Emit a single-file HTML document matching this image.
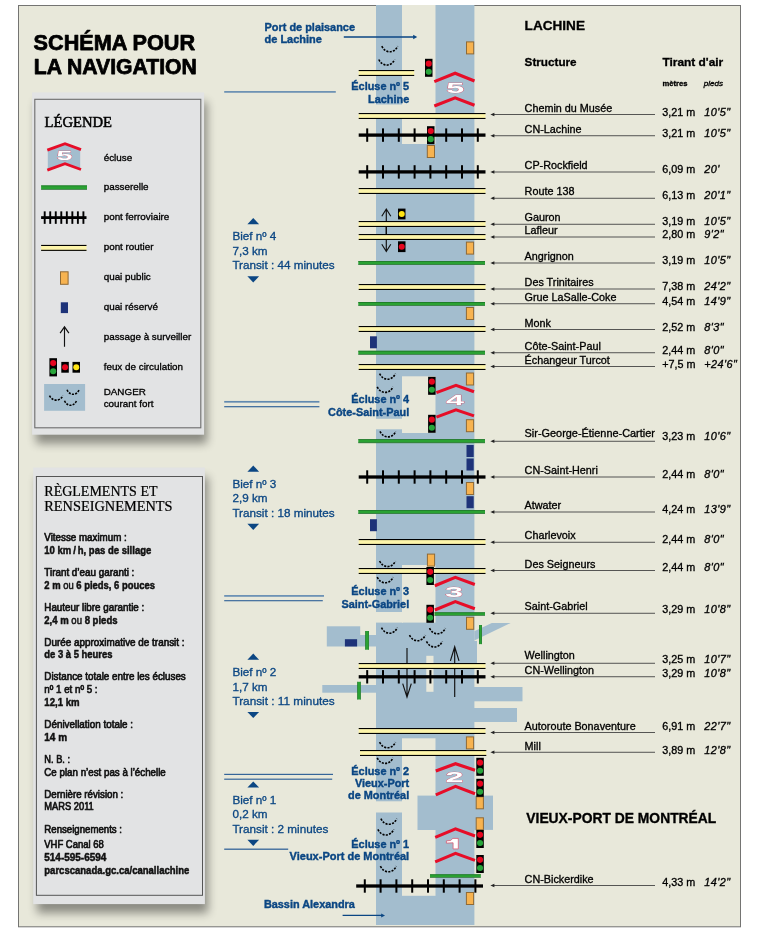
<!DOCTYPE html>
<html><head><meta charset="utf-8"><title>Schéma pour la navigation</title>
<style>html,body{margin:0;padding:0;background:#fff;}svg{display:block;will-change:transform;}text{font-kerning:normal;}</style></head><body>
<svg width="760" height="932" viewBox="0 0 760 932">
<defs><filter id="sh" x="-10%" y="-10%" width="130%" height="130%"><feGaussianBlur stdDeviation="4.6"/></filter>
<clipPath id="frame"><rect x="18.5" y="4.9" width="722.5" height="920.1"/></clipPath></defs>
<rect width="760" height="932" fill="#fff"/>
<rect x="18.5" y="5.5" width="722" height="921.3" fill="#e8e8da" stroke="#747472" stroke-width="1"/>
<g clip-path="url(#frame)">
<g fill="#a3bdce">
<rect x="376" y="4" width="98.4" height="923"/>
<rect x="326.8" y="626.3" width="33.4" height="20.2"/>
<rect x="360" y="635" width="17" height="11.5"/>
<rect x="322.3" y="685" width="54" height="7.7"/>
<polygon points="474.3,631.2 491.8,623 510.7,623 474.3,640.4"/>
<rect x="474" y="641" width="3" height="22"/>
<rect x="474" y="687" width="48.5" height="14.3"/>
<rect x="474" y="708" width="43" height="14"/>
<rect x="474" y="795.6" width="19" height="34.3"/>
</g>
<g fill="#e8e8da">
<rect x="402" y="4" width="33.5" height="140"/>
<rect x="375" y="104.5" width="28" height="9"/>
<rect x="402" y="376.3" width="33.5" height="56.7"/>
<rect x="375" y="418.8" width="28" height="10.5"/>
<rect x="402" y="565" width="33.5" height="57.6"/>
<rect x="375" y="612" width="28" height="10.6"/>
<rect x="426.3" y="655.8" width="7.2" height="36"/>
<rect x="402" y="738.3" width="33.5" height="57.3"/>
<rect x="402" y="795" width="15.5" height="36"/>
<rect x="402" y="830" width="33.5" height="65.8"/>
<rect x="375" y="801.3" width="28" height="11.2"/>
</g>
</g>
<path d="M381.8,46.2 C385.30,53.66 394.20,53.66 397.7,46.2" fill="none" stroke="#000" stroke-width="1.6" stroke-dasharray="2.1 1.25"/>
<path d="M378.8,59.5 C382.30,66.96 391.20,66.96 394.7,59.5" fill="none" stroke="#000" stroke-width="1.6" stroke-dasharray="2.1 1.25"/>
<path d="M379.6,373.6 C383.10,381.06 392.00,381.06 395.5,373.6" fill="none" stroke="#000" stroke-width="1.6" stroke-dasharray="2.1 1.25"/>
<path d="M377.2,386.8 C380.70,394.26 389.60,394.26 393.09999999999997,386.8" fill="none" stroke="#000" stroke-width="1.6" stroke-dasharray="2.1 1.25"/>
<path d="M380,431.3 C383.50,438.76 392.40,438.76 395.9,431.3" fill="none" stroke="#000" stroke-width="1.6" stroke-dasharray="2.1 1.25"/>
<path d="M379.6,561 C383.10,568.46 392.00,568.46 395.5,561" fill="none" stroke="#000" stroke-width="1.6" stroke-dasharray="2.1 1.25"/>
<path d="M377.2,577.2 C380.70,584.66 389.60,584.66 393.09999999999997,577.2" fill="none" stroke="#000" stroke-width="1.6" stroke-dasharray="2.1 1.25"/>
<path d="M381.5,627.6 C385.00,635.06 393.90,635.06 397.4,627.6" fill="none" stroke="#000" stroke-width="1.6" stroke-dasharray="2.1 1.25"/>
<path d="M409.5,635.1 C413.00,642.56 421.90,642.56 425.4,635.1" fill="none" stroke="#000" stroke-width="1.6" stroke-dasharray="2.1 1.25"/>
<path d="M429.5,628.2 C433.00,635.66 441.90,635.66 445.4,628.2" fill="none" stroke="#000" stroke-width="1.6" stroke-dasharray="2.1 1.25"/>
<path d="M426.5,641.4 C430.00,648.86 438.90,648.86 442.4,641.4" fill="none" stroke="#000" stroke-width="1.6" stroke-dasharray="2.1 1.25"/>
<path d="M379.6,742.2 C383.10,749.66 392.00,749.66 395.5,742.2" fill="none" stroke="#000" stroke-width="1.6" stroke-dasharray="2.1 1.25"/>
<path d="M377.2,757.8 C380.70,765.26 389.60,765.26 393.09999999999997,757.8" fill="none" stroke="#000" stroke-width="1.6" stroke-dasharray="2.1 1.25"/>
<path d="M380.9,818.7 C384.40,826.16 393.30,826.16 396.79999999999995,818.7" fill="none" stroke="#000" stroke-width="1.6" stroke-dasharray="2.1 1.25"/>
<path d="M377.9,829.4 C381.40,836.86 390.30,836.86 393.79999999999995,829.4" fill="none" stroke="#000" stroke-width="1.6" stroke-dasharray="2.1 1.25"/>
<path d="M380.4,866.2 C383.90,873.66 392.80,873.66 396.29999999999995,866.2" fill="none" stroke="#000" stroke-width="1.6" stroke-dasharray="2.1 1.25"/>
<path d="M386.3,236 L386.3,209 M381.8,216.3 L386.3,209 L390.8,216.3" fill="none" stroke="#111" stroke-width="1.15"/>
<path d="M386.3,226 L386.3,251.5 M381.8,244.2 L386.3,251.5 L390.8,244.2" fill="none" stroke="#111" stroke-width="1.15"/>
<path d="M407,648 L407,697.2 M402.7,683.7 L407,697.2 L411.3,683.7" fill="none" stroke="#111" stroke-width="1.15"/>
<path d="M454.7,697 L454.7,646.8 M450.4,660.8 L454.7,646.8 L459.0,660.8" fill="none" stroke="#111" stroke-width="1.15"/>
<rect x="358.7" y="70" width="55.5" height="6" fill="#fdf5aa"/>
<rect x="358.7" y="70" width="55.5" height="1.1" fill="#000"/>
<rect x="358.7" y="74.9" width="55.5" height="1.1" fill="#000"/>
<rect x="358.7" y="113" width="126.80000000000001" height="6" fill="#fdf5aa"/>
<rect x="358.7" y="113" width="126.80000000000001" height="1.1" fill="#000"/>
<rect x="358.7" y="117.9" width="126.80000000000001" height="1.1" fill="#000"/>
<rect x="358.7" y="133.45" width="126.80000000000001" height="3.3" fill="#000"/>
<rect x="366.20" y="128.4" width="2.0" height="13.4" fill="#000"/>
<rect x="382.00" y="128.4" width="2.0" height="13.4" fill="#000"/>
<rect x="397.80" y="128.4" width="2.0" height="13.4" fill="#000"/>
<rect x="413.60" y="128.4" width="2.0" height="13.4" fill="#000"/>
<rect x="429.40" y="128.4" width="2.0" height="13.4" fill="#000"/>
<rect x="445.20" y="128.4" width="2.0" height="13.4" fill="#000"/>
<rect x="461.00" y="128.4" width="2.0" height="13.4" fill="#000"/>
<rect x="476.80" y="128.4" width="2.0" height="13.4" fill="#000"/>
<rect x="358.7" y="170.25" width="126.80000000000001" height="3.3" fill="#000"/>
<rect x="366.20" y="165.20000000000002" width="2.0" height="13.4" fill="#000"/>
<rect x="382.00" y="165.20000000000002" width="2.0" height="13.4" fill="#000"/>
<rect x="397.80" y="165.20000000000002" width="2.0" height="13.4" fill="#000"/>
<rect x="413.60" y="165.20000000000002" width="2.0" height="13.4" fill="#000"/>
<rect x="429.40" y="165.20000000000002" width="2.0" height="13.4" fill="#000"/>
<rect x="445.20" y="165.20000000000002" width="2.0" height="13.4" fill="#000"/>
<rect x="461.00" y="165.20000000000002" width="2.0" height="13.4" fill="#000"/>
<rect x="476.80" y="165.20000000000002" width="2.0" height="13.4" fill="#000"/>
<rect x="358.7" y="188" width="126.80000000000001" height="6" fill="#fdf5aa"/>
<rect x="358.7" y="188" width="126.80000000000001" height="1.1" fill="#000"/>
<rect x="358.7" y="192.9" width="126.80000000000001" height="1.1" fill="#000"/>
<rect x="358.7" y="221" width="126.80000000000001" height="6" fill="#fdf5aa"/>
<rect x="358.7" y="221" width="126.80000000000001" height="1.1" fill="#000"/>
<rect x="358.7" y="225.9" width="126.80000000000001" height="1.1" fill="#000"/>
<rect x="358.7" y="234" width="126.80000000000001" height="6" fill="#fdf5aa"/>
<rect x="358.7" y="234" width="126.80000000000001" height="1.1" fill="#000"/>
<rect x="358.7" y="238.9" width="126.80000000000001" height="1.1" fill="#000"/>
<rect x="358.3" y="261.1" width="126.69999999999999" height="3.8" fill="#2aa233"/>
<rect x="358.3" y="261.1" width="126.69999999999999" height="0.7" fill="#1b6f25"/>
<rect x="358.3" y="264.3" width="126.69999999999999" height="0.6" fill="#3c6b47"/>
<rect x="358.7" y="284" width="126.80000000000001" height="6" fill="#fdf5aa"/>
<rect x="358.7" y="284" width="126.80000000000001" height="1.1" fill="#000"/>
<rect x="358.7" y="288.9" width="126.80000000000001" height="1.1" fill="#000"/>
<rect x="358.3" y="302" width="126.69999999999999" height="3.8" fill="#2aa233"/>
<rect x="358.3" y="302" width="126.69999999999999" height="0.7" fill="#1b6f25"/>
<rect x="358.3" y="305.2" width="126.69999999999999" height="0.6" fill="#3c6b47"/>
<rect x="358.7" y="326" width="126.80000000000001" height="6" fill="#fdf5aa"/>
<rect x="358.7" y="326" width="126.80000000000001" height="1.1" fill="#000"/>
<rect x="358.7" y="330.9" width="126.80000000000001" height="1.1" fill="#000"/>
<rect x="358.3" y="350.8" width="126.69999999999999" height="3.8" fill="#2aa233"/>
<rect x="358.3" y="350.8" width="126.69999999999999" height="0.7" fill="#1b6f25"/>
<rect x="358.3" y="354.0" width="126.69999999999999" height="0.6" fill="#3c6b47"/>
<rect x="358.7" y="364" width="126.80000000000001" height="6" fill="#fdf5aa"/>
<rect x="358.7" y="364" width="126.80000000000001" height="1.1" fill="#000"/>
<rect x="358.7" y="368.9" width="126.80000000000001" height="1.1" fill="#000"/>
<rect x="358.3" y="439.3" width="126.69999999999999" height="3.8" fill="#2aa233"/>
<rect x="358.3" y="439.3" width="126.69999999999999" height="0.7" fill="#1b6f25"/>
<rect x="358.3" y="442.5" width="126.69999999999999" height="0.6" fill="#3c6b47"/>
<rect x="358.7" y="475.35" width="126.80000000000001" height="3.3" fill="#000"/>
<rect x="366.20" y="470.3" width="2.0" height="13.4" fill="#000"/>
<rect x="382.00" y="470.3" width="2.0" height="13.4" fill="#000"/>
<rect x="397.80" y="470.3" width="2.0" height="13.4" fill="#000"/>
<rect x="413.60" y="470.3" width="2.0" height="13.4" fill="#000"/>
<rect x="429.40" y="470.3" width="2.0" height="13.4" fill="#000"/>
<rect x="445.20" y="470.3" width="2.0" height="13.4" fill="#000"/>
<rect x="461.00" y="470.3" width="2.0" height="13.4" fill="#000"/>
<rect x="476.80" y="470.3" width="2.0" height="13.4" fill="#000"/>
<rect x="358.3" y="510.1" width="126.69999999999999" height="3.8" fill="#2aa233"/>
<rect x="358.3" y="510.1" width="126.69999999999999" height="0.7" fill="#1b6f25"/>
<rect x="358.3" y="513.3" width="126.69999999999999" height="0.6" fill="#3c6b47"/>
<rect x="358.7" y="539" width="126.80000000000001" height="6" fill="#fdf5aa"/>
<rect x="358.7" y="539" width="126.80000000000001" height="1.1" fill="#000"/>
<rect x="358.7" y="543.9" width="126.80000000000001" height="1.1" fill="#000"/>
<rect x="358.7" y="568" width="126.80000000000001" height="6" fill="#fdf5aa"/>
<rect x="358.7" y="568" width="126.80000000000001" height="1.1" fill="#000"/>
<rect x="358.7" y="572.9" width="126.80000000000001" height="1.1" fill="#000"/>
<rect x="434.5" y="612.4" width="50.5" height="3.2" fill="#2aa233"/>
<rect x="434.5" y="612.4" width="50.5" height="0.7" fill="#1b6f25"/>
<rect x="434.5" y="615.0" width="50.5" height="0.6" fill="#3c6b47"/>
<rect x="358.7" y="663" width="126.80000000000001" height="6" fill="#fdf5aa"/>
<rect x="358.7" y="663" width="126.80000000000001" height="1.1" fill="#000"/>
<rect x="358.7" y="667.9" width="126.80000000000001" height="1.1" fill="#000"/>
<rect x="358.7" y="675.15" width="126.80000000000001" height="3.3" fill="#000"/>
<rect x="366.20" y="670.0999999999999" width="2.0" height="13.4" fill="#000"/>
<rect x="382.00" y="670.0999999999999" width="2.0" height="13.4" fill="#000"/>
<rect x="397.80" y="670.0999999999999" width="2.0" height="13.4" fill="#000"/>
<rect x="413.60" y="670.0999999999999" width="2.0" height="13.4" fill="#000"/>
<rect x="429.40" y="670.0999999999999" width="2.0" height="13.4" fill="#000"/>
<rect x="445.20" y="670.0999999999999" width="2.0" height="13.4" fill="#000"/>
<rect x="461.00" y="670.0999999999999" width="2.0" height="13.4" fill="#000"/>
<rect x="476.80" y="670.0999999999999" width="2.0" height="13.4" fill="#000"/>
<rect x="358.7" y="728" width="126.80000000000001" height="6" fill="#fdf5aa"/>
<rect x="358.7" y="728" width="126.80000000000001" height="1.1" fill="#000"/>
<rect x="358.7" y="732.9" width="126.80000000000001" height="1.1" fill="#000"/>
<rect x="360" y="750" width="126.30000000000001" height="6" fill="#fdf5aa"/>
<rect x="360" y="750" width="126.30000000000001" height="1.1" fill="#000"/>
<rect x="360" y="754.9" width="126.30000000000001" height="1.1" fill="#000"/>
<rect x="430" y="874.4" width="50.80000000000001" height="3.2" fill="#2aa233"/>
<rect x="430" y="874.4" width="50.80000000000001" height="0.7" fill="#1b6f25"/>
<rect x="430" y="877.0" width="50.80000000000001" height="0.6" fill="#3c6b47"/>
<rect x="356.2" y="884.35" width="126.80000000000001" height="3.3" fill="#000"/>
<rect x="363.80" y="879.3" width="2.0" height="13.4" fill="#000"/>
<rect x="379.60" y="879.3" width="2.0" height="13.4" fill="#000"/>
<rect x="395.40" y="879.3" width="2.0" height="13.4" fill="#000"/>
<rect x="411.20" y="879.3" width="2.0" height="13.4" fill="#000"/>
<rect x="427.00" y="879.3" width="2.0" height="13.4" fill="#000"/>
<rect x="442.80" y="879.3" width="2.0" height="13.4" fill="#000"/>
<rect x="458.60" y="879.3" width="2.0" height="13.4" fill="#000"/>
<rect x="474.40" y="879.3" width="2.0" height="13.4" fill="#000"/>
<rect x="365.4" y="631" width="3.6000000000000227" height="18.700000000000045" fill="#2aa233"/>
<rect x="365.4" y="631" width="0.6" height="18.700000000000045" fill="#1b6f25"/>
<rect x="368.4" y="631" width="0.6" height="18.700000000000045" fill="#2f7a3a"/>
<rect x="357.4" y="681.8" width="3.400000000000034" height="17.700000000000045" fill="#2aa233"/>
<rect x="357.4" y="681.8" width="0.6" height="17.700000000000045" fill="#1b6f25"/>
<rect x="360.2" y="681.8" width="0.6" height="17.700000000000045" fill="#2f7a3a"/>
<rect x="479.1" y="625" width="2.8999999999999773" height="19.100000000000023" fill="#2aa233"/>
<rect x="479.1" y="625" width="0.6" height="19.100000000000023" fill="#1b6f25"/>
<rect x="481.4" y="625" width="0.6" height="19.100000000000023" fill="#2f7a3a"/>
<rect x="466.5" y="41.9" width="7.199999999999999" height="12" fill="#f7b350" stroke="#8f6a36" stroke-width="1"/>
<rect x="427.3" y="145.5" width="7.199999999999999" height="12" fill="#f7b350" stroke="#8f6a36" stroke-width="1"/>
<rect x="466.4" y="242.1" width="7.199999999999999" height="12" fill="#f7b350" stroke="#8f6a36" stroke-width="1"/>
<rect x="466.4" y="307.5" width="7.199999999999999" height="12" fill="#f7b350" stroke="#8f6a36" stroke-width="1"/>
<rect x="466.4" y="373.0" width="7.199999999999999" height="12" fill="#f7b350" stroke="#8f6a36" stroke-width="1"/>
<rect x="466.4" y="419.7" width="7.199999999999999" height="12" fill="#f7b350" stroke="#8f6a36" stroke-width="1"/>
<rect x="466.4" y="482.5" width="7.199999999999999" height="12" fill="#f7b350" stroke="#8f6a36" stroke-width="1"/>
<rect x="427.4" y="554.1" width="7.199999999999999" height="12" fill="#f7b350" stroke="#8f6a36" stroke-width="1"/>
<rect x="466.5" y="617.3" width="7.199999999999999" height="12" fill="#f7b350" stroke="#8f6a36" stroke-width="1"/>
<rect x="466.4" y="736.9" width="7.199999999999999" height="12" fill="#f7b350" stroke="#8f6a36" stroke-width="1"/>
<rect x="476.2" y="796.8" width="7.199999999999999" height="12" fill="#f7b350" stroke="#8f6a36" stroke-width="1"/>
<rect x="476.2" y="817.8" width="7.199999999999999" height="12" fill="#f7b350" stroke="#8f6a36" stroke-width="1"/>
<rect x="466.4" y="892.5" width="7.199999999999999" height="12" fill="#f7b350" stroke="#8f6a36" stroke-width="1"/>
<rect x="370" y="336.3" width="6.9" height="12" fill="#1e3379"/>
<rect x="466.5" y="445" width="7.2" height="12" fill="#1e3379"/>
<rect x="466.5" y="458.5" width="7.2" height="12" fill="#1e3379"/>
<rect x="466.5" y="496.2" width="7.2" height="12" fill="#1e3379"/>
<rect x="370" y="519.2" width="6.9" height="12" fill="#1e3379"/>
<rect x="344.9" y="639.2" width="12.2" height="7.3" fill="#1e3379"/>
<polyline points="434.3,81.6 455.1,73.2 474.5,81.0" fill="none" stroke="#e60d28" stroke-width="3.1" stroke-linejoin="miter"/>
<polyline points="434.3,106 455.1,97.8 474.5,105.3" fill="none" stroke="#e60d28" stroke-width="3.1" stroke-linejoin="miter"/>
<text x="0" y="0" transform="translate(455.3,88.1) scale(2.35,1.0)" text-anchor="middle" font-family="Liberation Sans" font-weight="bold" font-size="13.8" fill="#fff" stroke="#dc4a64" stroke-width="0.45" paint-order="stroke" dominant-baseline="central">5</text>
<polyline points="436.4,392.6 456,385.3 474,391.8" fill="none" stroke="#e60d28" stroke-width="3.1" stroke-linejoin="miter"/>
<polyline points="436.4,417.1 456,409.8 474,415.9" fill="none" stroke="#e60d28" stroke-width="3.1" stroke-linejoin="miter"/>
<text x="0" y="0" transform="translate(455,399.90000000000003) scale(2.35,1.0)" text-anchor="middle" font-family="Liberation Sans" font-weight="bold" font-size="13.8" fill="#fff" stroke="#dc4a64" stroke-width="0.45" paint-order="stroke" dominant-baseline="central">4</text>
<polyline points="434.8,585.7 455.3,577.3 474.8,584.5" fill="none" stroke="#e60d28" stroke-width="3.1" stroke-linejoin="miter"/>
<polyline points="434.8,610 455.3,601.6 474.8,608.8" fill="none" stroke="#e60d28" stroke-width="3.1" stroke-linejoin="miter"/>
<text x="0" y="0" transform="translate(454,591.8) scale(2.35,1.0)" text-anchor="middle" font-family="Liberation Sans" font-weight="bold" font-size="13.8" fill="#fff" stroke="#dc4a64" stroke-width="0.45" paint-order="stroke" dominant-baseline="central">3</text>
<polyline points="435.8,771 455.5,763.7 475,770.2" fill="none" stroke="#e60d28" stroke-width="3.1" stroke-linejoin="miter"/>
<polyline points="435.8,794.8 455.5,786.3 475,793.8" fill="none" stroke="#e60d28" stroke-width="3.1" stroke-linejoin="miter"/>
<text x="0" y="0" transform="translate(454.6,777.5) scale(2.35,1.0)" text-anchor="middle" font-family="Liberation Sans" font-weight="bold" font-size="13.8" fill="#fff" stroke="#dc4a64" stroke-width="0.45" paint-order="stroke" dominant-baseline="central">2</text>
<polyline points="435.2,837.4 455.5,828.9 475,836" fill="none" stroke="#e60d28" stroke-width="3.1" stroke-linejoin="miter"/>
<polyline points="435.2,861.9 455.5,853.4 475,860.4" fill="none" stroke="#e60d28" stroke-width="3.1" stroke-linejoin="miter"/>
<path d="M452.8,838.4 L458.3,838.4 L458.3,848.9 L453.1,848.9 L453.1,842.8 L446.4,843.1 L446.4,840.9 L450.6,840.5 Z" fill="#fff" stroke="#dc4a64" stroke-width="0.7" stroke-linejoin="round"/>
<rect x="425" y="58.8" width="7.5" height="18" fill="#000"/>
<circle cx="428.75" cy="63.66" r="3.05" fill="#e6061f"/>
<circle cx="428.75" cy="71.76" r="3.05" fill="#27a53a"/>
<rect x="427" y="126.2" width="7.5" height="18" fill="#000"/>
<circle cx="430.75" cy="131.06" r="3.05" fill="#e6061f"/>
<circle cx="430.75" cy="139.16" r="3.05" fill="#27a53a"/>
<rect x="428.1" y="376.8" width="7.5" height="18" fill="#000"/>
<circle cx="431.85" cy="381.66" r="3.05" fill="#e6061f"/>
<circle cx="431.85" cy="389.76" r="3.05" fill="#27a53a"/>
<rect x="428.1" y="414.8" width="7.5" height="18" fill="#000"/>
<circle cx="431.85" cy="419.66" r="3.05" fill="#e6061f"/>
<circle cx="431.85" cy="427.76" r="3.05" fill="#27a53a"/>
<rect x="426.4" y="567" width="7.5" height="18" fill="#000"/>
<circle cx="430.15" cy="571.86" r="3.05" fill="#e6061f"/>
<circle cx="430.15" cy="579.96" r="3.05" fill="#27a53a"/>
<rect x="426.4" y="604.8" width="7.5" height="18" fill="#000"/>
<circle cx="430.15" cy="609.66" r="3.05" fill="#e6061f"/>
<circle cx="430.15" cy="617.76" r="3.05" fill="#27a53a"/>
<rect x="476.3" y="757.8" width="7.5" height="18" fill="#000"/>
<circle cx="480.05" cy="762.66" r="3.05" fill="#e6061f"/>
<circle cx="480.05" cy="770.76" r="3.05" fill="#27a53a"/>
<rect x="476.3" y="778.8" width="7.5" height="18" fill="#000"/>
<circle cx="480.05" cy="783.66" r="3.05" fill="#e6061f"/>
<circle cx="480.05" cy="791.76" r="3.05" fill="#27a53a"/>
<rect x="476.3" y="830" width="7.5" height="18" fill="#000"/>
<circle cx="480.05" cy="834.86" r="3.05" fill="#e6061f"/>
<circle cx="480.05" cy="842.96" r="3.05" fill="#27a53a"/>
<rect x="476.3" y="855" width="7.5" height="18" fill="#000"/>
<circle cx="480.05" cy="859.86" r="3.05" fill="#e6061f"/>
<circle cx="480.05" cy="867.96" r="3.05" fill="#27a53a"/>
<rect x="398" y="208.6" width="7.5" height="10.8" fill="#000"/>
<circle cx="401.75" cy="214.0" r="3.0" fill="#ffe414"/>
<rect x="398" y="241.3" width="7.5" height="10.8" fill="#000"/>
<circle cx="401.75" cy="246.70000000000002" r="3.0" fill="#e6061f"/>
<rect x="224.2" y="91.10000000000001" width="111.60000000000002" height="1.6" fill="#6189b0"/>
<rect x="224.2" y="400.95" width="95.19999999999999" height="1.7" fill="#6189b0"/>
<rect x="224.2" y="406.09999999999997" width="95.19999999999999" height="1.2" fill="#356599"/>
<rect x="224.2" y="595.0" width="99.80000000000001" height="1.8" fill="#6d92b5"/>
<rect x="224.2" y="600.125" width="98.60000000000002" height="1.15" fill="#356599"/>
<rect x="224.2" y="773.8" width="108.80000000000001" height="1.2" fill="#356599"/>
<rect x="224.2" y="778.6" width="108.0" height="1.2" fill="#356599"/>
<rect x="224.2" y="848.5500000000001" width="64.0" height="1.3" fill="#356599"/>
<path d="M343.8,37 L414,37" stroke="#0b4683" stroke-width="1.5" fill="none"/><polygon points="413.2,34.8 417.2,37 413.2,39.2" fill="#0b4683"/>
<path d="M342.6,915.4 L382,915.4" stroke="#0b4683" stroke-width="1.2" fill="none"/><polygon points="381.2,913.4 385,915.4 381.2,917.4" fill="#0b4683"/>
<text x="264.5" y="31" font-family="Liberation Sans" font-size="11" font-weight="bold" font-style="normal" fill="#0b4683" text-anchor="start" textLength="90.5" lengthAdjust="spacingAndGlyphs"  stroke="#0b4683" stroke-width="0.4">Port de plaisance</text>
<text x="264.5" y="43.3" font-family="Liberation Sans" font-size="11" font-weight="bold" font-style="normal" fill="#0b4683" text-anchor="start"  stroke="#0b4683" stroke-width="0.4">de Lachine</text>
<text x="409.2" y="90.3" font-family="Liberation Sans" font-size="10.9" font-weight="bold" font-style="normal" fill="#0b4683" text-anchor="end"  stroke="#0b4683" stroke-width="0.4">Écluse nº 5</text>
<text x="409.2" y="102.89999999999999" font-family="Liberation Sans" font-size="10.9" font-weight="bold" font-style="normal" fill="#0b4683" text-anchor="end"  stroke="#0b4683" stroke-width="0.4">Lachine</text>
<text x="409.2" y="403.3" font-family="Liberation Sans" font-size="10.9" font-weight="bold" font-style="normal" fill="#0b4683" text-anchor="end"  stroke="#0b4683" stroke-width="0.4">Écluse nº 4</text>
<text x="409.2" y="416.0" font-family="Liberation Sans" font-size="10.9" font-weight="bold" font-style="normal" fill="#0b4683" text-anchor="end"  stroke="#0b4683" stroke-width="0.4">Côte-Saint-Paul</text>
<text x="409.2" y="595.2" font-family="Liberation Sans" font-size="10.9" font-weight="bold" font-style="normal" fill="#0b4683" text-anchor="end"  stroke="#0b4683" stroke-width="0.4">Écluse nº 3</text>
<text x="409.2" y="607.8000000000001" font-family="Liberation Sans" font-size="10.9" font-weight="bold" font-style="normal" fill="#0b4683" text-anchor="end"  stroke="#0b4683" stroke-width="0.4">Saint-Gabriel</text>
<text x="409.2" y="774.9000000000001" font-family="Liberation Sans" font-size="10.9" font-weight="bold" font-style="normal" fill="#0b4683" text-anchor="end"  stroke="#0b4683" stroke-width="0.4">Écluse nº 2</text>
<text x="409.2" y="786.8000000000001" font-family="Liberation Sans" font-size="10.9" font-weight="bold" font-style="normal" fill="#0b4683" text-anchor="end"  stroke="#0b4683" stroke-width="0.4">Vieux-Port</text>
<text x="409.2" y="798.7" font-family="Liberation Sans" font-size="10.9" font-weight="bold" font-style="normal" fill="#0b4683" text-anchor="end"  stroke="#0b4683" stroke-width="0.4">de Montréal</text>
<text x="409.2" y="847.5" font-family="Liberation Sans" font-size="10.9" font-weight="bold" font-style="normal" fill="#0b4683" text-anchor="end"  stroke="#0b4683" stroke-width="0.4">Écluse nº 1</text>
<text x="409.2" y="859.9" font-family="Liberation Sans" font-size="11" font-weight="bold" font-style="normal" fill="#0b4683" text-anchor="end"  stroke="#0b4683" stroke-width="0.4">Vieux-Port de Montréal</text>
<text x="263.9" y="907.8" font-family="Liberation Sans" font-size="11" font-weight="bold" font-style="normal" fill="#0b4683" text-anchor="start" textLength="91" lengthAdjust="spacingAndGlyphs"  stroke="#0b4683" stroke-width="0.4">Bassin Alexandra</text>
<text x="232.4" y="240.4" font-family="Liberation Sans" font-size="11.7" font-weight="normal" font-style="normal" fill="#0b4683" text-anchor="start"  stroke="#0b4683" stroke-width="0.32">Bief nº 4</text>
<text x="232.4" y="254.9" font-family="Liberation Sans" font-size="11.7" font-weight="normal" font-style="normal" fill="#0b4683" text-anchor="start"  stroke="#0b4683" stroke-width="0.32">7,3 km</text>
<text x="232.4" y="269.4" font-family="Liberation Sans" font-size="11.7" font-weight="normal" font-style="normal" fill="#0b4683" text-anchor="start" textLength="102.3" lengthAdjust="spacingAndGlyphs"  stroke="#0b4683" stroke-width="0.32">Transit : 44 minutes</text>
<polygon points="247.4,224.2 259.1,224.2 253.25,218" fill="#0b4683"/>
<polygon points="247.4,276.3 259.1,276.3 253.25,282.5" fill="#0b4683"/>
<text x="232.4" y="487.9" font-family="Liberation Sans" font-size="11.7" font-weight="normal" font-style="normal" fill="#0b4683" text-anchor="start"  stroke="#0b4683" stroke-width="0.32">Bief nº 3</text>
<text x="232.4" y="502.4" font-family="Liberation Sans" font-size="11.7" font-weight="normal" font-style="normal" fill="#0b4683" text-anchor="start"  stroke="#0b4683" stroke-width="0.32">2,9 km</text>
<text x="232.4" y="516.9" font-family="Liberation Sans" font-size="11.7" font-weight="normal" font-style="normal" fill="#0b4683" text-anchor="start" textLength="102.3" lengthAdjust="spacingAndGlyphs"  stroke="#0b4683" stroke-width="0.32">Transit : 18 minutes</text>
<polygon points="247.4,471.7 259.1,471.7 253.25,465.5" fill="#0b4683"/>
<polygon points="247.4,523.8 259.1,523.8 253.25,530.0" fill="#0b4683"/>
<text x="232.4" y="676.0" font-family="Liberation Sans" font-size="11.7" font-weight="normal" font-style="normal" fill="#0b4683" text-anchor="start"  stroke="#0b4683" stroke-width="0.32">Bief nº 2</text>
<text x="232.4" y="690.5" font-family="Liberation Sans" font-size="11.7" font-weight="normal" font-style="normal" fill="#0b4683" text-anchor="start"  stroke="#0b4683" stroke-width="0.32">1,7 km</text>
<text x="232.4" y="705.0" font-family="Liberation Sans" font-size="11.7" font-weight="normal" font-style="normal" fill="#0b4683" text-anchor="start" textLength="102.3" lengthAdjust="spacingAndGlyphs"  stroke="#0b4683" stroke-width="0.32">Transit : 11 minutes</text>
<polygon points="247.4,659.8000000000001 259.1,659.8000000000001 253.25,653.6" fill="#0b4683"/>
<polygon points="247.4,711.9 259.1,711.9 253.25,718.1" fill="#0b4683"/>
<text x="232.4" y="803.8" font-family="Liberation Sans" font-size="11.7" font-weight="normal" font-style="normal" fill="#0b4683" text-anchor="start"  stroke="#0b4683" stroke-width="0.32">Bief nº 1</text>
<text x="232.4" y="818.3" font-family="Liberation Sans" font-size="11.7" font-weight="normal" font-style="normal" fill="#0b4683" text-anchor="start"  stroke="#0b4683" stroke-width="0.32">0,2 km</text>
<text x="232.4" y="832.8" font-family="Liberation Sans" font-size="11.7" font-weight="normal" font-style="normal" fill="#0b4683" text-anchor="start" textLength="96" lengthAdjust="spacingAndGlyphs"  stroke="#0b4683" stroke-width="0.32">Transit : 2 minutes</text>
<polygon points="247.4,787.6 259.1,787.6 253.25,781.4" fill="#0b4683"/>
<polygon points="247.4,839.6999999999999 259.1,839.6999999999999 253.25,845.9" fill="#0b4683"/>
<text x="524.6" y="29.6" font-family="Liberation Sans" font-size="13.5" font-weight="bold" font-style="normal" fill="#000" text-anchor="start" textLength="60.4" lengthAdjust="spacingAndGlyphs"  stroke="#000" stroke-width="0.32">LACHINE</text>
<text x="524.6" y="66.3" font-family="Liberation Sans" font-size="11.7" font-weight="bold" font-style="normal" fill="#000" text-anchor="start" textLength="52" lengthAdjust="spacingAndGlyphs"  stroke="#000" stroke-width="0.32">Structure</text>
<text x="662.4" y="66.3" font-family="Liberation Sans" font-size="11.7" font-weight="bold" font-style="normal" fill="#000" text-anchor="start" textLength="60.8" lengthAdjust="spacingAndGlyphs"  stroke="#000" stroke-width="0.32">Tirant d'air</text>
<text x="662.4" y="85.8" font-family="Liberation Sans" font-size="7.6" font-weight="bold" font-style="normal" fill="#000" text-anchor="start" textLength="25" lengthAdjust="spacingAndGlyphs"  stroke="#000" stroke-width="0.32">mètres</text>
<text x="703.8" y="85.8" font-family="Liberation Sans" font-size="7.8" font-weight="normal" font-style="italic" fill="#000" text-anchor="start" textLength="19.3" lengthAdjust="spacingAndGlyphs"  stroke="#000" stroke-width="0.32">pieds</text>
<text x="526.3" y="822.8" font-family="Liberation Sans" font-size="13.8" font-weight="bold" font-style="normal" fill="#000" text-anchor="start" textLength="190" lengthAdjust="spacingAndGlyphs"  stroke="#000" stroke-width="0.32">VIEUX-PORT DE MONTRÉAL</text>
<rect x="492" y="114.05" width="163" height="0.9" fill="#444"/>
<polygon points="490.4,114.5 494.4,112.8 494.4,116.2" fill="#222"/>
<text x="524.6" y="111.65" font-family="Liberation Sans" font-size="10.8" font-weight="normal" font-style="normal" fill="#000" text-anchor="start"  stroke="#000" stroke-width="0.32">Chemin du Musée</text>
<text x="662.3" y="115.6" font-family="Liberation Sans" font-size="10.8" font-weight="normal" font-style="normal" fill="#000" text-anchor="start"  stroke="#000" stroke-width="0.32">3,21 m</text>
<text x="704.2" y="115.6" font-family="Liberation Sans" font-size="10.9" font-weight="normal" font-style="italic" fill="#000" text-anchor="start" letter-spacing="0.45" stroke="#000" stroke-width="0.32">10'5&quot;</text>
<rect x="492" y="135.3" width="163" height="0.9" fill="#444"/>
<polygon points="490.4,135.75 494.4,134.05 494.4,137.45" fill="#222"/>
<text x="524.6" y="132.9" font-family="Liberation Sans" font-size="10.8" font-weight="normal" font-style="normal" fill="#000" text-anchor="start"  stroke="#000" stroke-width="0.32">CN-Lachine</text>
<text x="662.3" y="136.85" font-family="Liberation Sans" font-size="10.8" font-weight="normal" font-style="normal" fill="#000" text-anchor="start"  stroke="#000" stroke-width="0.32">3,21 m</text>
<text x="704.2" y="136.85" font-family="Liberation Sans" font-size="10.9" font-weight="normal" font-style="italic" fill="#000" text-anchor="start" letter-spacing="0.45" stroke="#000" stroke-width="0.32">10'5&quot;</text>
<rect x="492" y="171.55" width="163" height="0.9" fill="#444"/>
<polygon points="490.4,172 494.4,170.3 494.4,173.7" fill="#222"/>
<text x="524.6" y="169.15" font-family="Liberation Sans" font-size="10.8" font-weight="normal" font-style="normal" fill="#000" text-anchor="start"  stroke="#000" stroke-width="0.32">CP-Rockfield</text>
<text x="662.3" y="173.1" font-family="Liberation Sans" font-size="10.8" font-weight="normal" font-style="normal" fill="#000" text-anchor="start"  stroke="#000" stroke-width="0.32">6,09 m</text>
<text x="704.2" y="173.1" font-family="Liberation Sans" font-size="10.9" font-weight="normal" font-style="italic" fill="#000" text-anchor="start" letter-spacing="0.45" stroke="#000" stroke-width="0.32">20'</text>
<rect x="492" y="197.8" width="163" height="0.9" fill="#444"/>
<polygon points="490.4,198.25 494.4,196.55 494.4,199.95" fill="#222"/>
<text x="524.6" y="195.4" font-family="Liberation Sans" font-size="10.8" font-weight="normal" font-style="normal" fill="#000" text-anchor="start"  stroke="#000" stroke-width="0.32">Route 138</text>
<text x="662.3" y="199.35" font-family="Liberation Sans" font-size="10.8" font-weight="normal" font-style="normal" fill="#000" text-anchor="start"  stroke="#000" stroke-width="0.32">6,13 m</text>
<text x="704.2" y="199.35" font-family="Liberation Sans" font-size="10.9" font-weight="normal" font-style="italic" fill="#000" text-anchor="start" letter-spacing="0.45" stroke="#000" stroke-width="0.32">20'1&quot;</text>
<rect x="492" y="223.8" width="163" height="0.9" fill="#444"/>
<polygon points="490.4,224.25 494.4,222.55 494.4,225.95" fill="#222"/>
<text x="524.6" y="221.4" font-family="Liberation Sans" font-size="10.8" font-weight="normal" font-style="normal" fill="#000" text-anchor="start"  stroke="#000" stroke-width="0.32">Gauron</text>
<text x="662.3" y="225.35" font-family="Liberation Sans" font-size="10.8" font-weight="normal" font-style="normal" fill="#000" text-anchor="start"  stroke="#000" stroke-width="0.32">3,19 m</text>
<text x="704.2" y="225.35" font-family="Liberation Sans" font-size="10.9" font-weight="normal" font-style="italic" fill="#000" text-anchor="start" letter-spacing="0.45" stroke="#000" stroke-width="0.32">10'5&quot;</text>
<rect x="492" y="236.55" width="163" height="0.9" fill="#444"/>
<polygon points="490.4,237 494.4,235.3 494.4,238.7" fill="#222"/>
<text x="524.6" y="234.15" font-family="Liberation Sans" font-size="10.8" font-weight="normal" font-style="normal" fill="#000" text-anchor="start"  stroke="#000" stroke-width="0.32">Lafleur</text>
<text x="662.3" y="238.1" font-family="Liberation Sans" font-size="10.8" font-weight="normal" font-style="normal" fill="#000" text-anchor="start"  stroke="#000" stroke-width="0.32">2,80 m</text>
<text x="704.2" y="238.1" font-family="Liberation Sans" font-size="10.9" font-weight="normal" font-style="italic" fill="#000" text-anchor="start" letter-spacing="0.45" stroke="#000" stroke-width="0.32">9'2&quot;</text>
<rect x="492" y="262.55" width="163" height="0.9" fill="#444"/>
<polygon points="490.4,263 494.4,261.3 494.4,264.7" fill="#222"/>
<text x="524.6" y="260.15" font-family="Liberation Sans" font-size="10.8" font-weight="normal" font-style="normal" fill="#000" text-anchor="start"  stroke="#000" stroke-width="0.32">Angrignon</text>
<text x="662.3" y="264.1" font-family="Liberation Sans" font-size="10.8" font-weight="normal" font-style="normal" fill="#000" text-anchor="start"  stroke="#000" stroke-width="0.32">3,19 m</text>
<text x="704.2" y="264.1" font-family="Liberation Sans" font-size="10.9" font-weight="normal" font-style="italic" fill="#000" text-anchor="start" letter-spacing="0.45" stroke="#000" stroke-width="0.32">10'5&quot;</text>
<rect x="492" y="288.55" width="163" height="0.9" fill="#444"/>
<polygon points="490.4,289 494.4,287.3 494.4,290.7" fill="#222"/>
<text x="524.6" y="286.15" font-family="Liberation Sans" font-size="10.8" font-weight="normal" font-style="normal" fill="#000" text-anchor="start"  stroke="#000" stroke-width="0.32">Des Trinitaires</text>
<text x="662.3" y="290.1" font-family="Liberation Sans" font-size="10.8" font-weight="normal" font-style="normal" fill="#000" text-anchor="start"  stroke="#000" stroke-width="0.32">7,38 m</text>
<text x="704.2" y="290.1" font-family="Liberation Sans" font-size="10.9" font-weight="normal" font-style="italic" fill="#000" text-anchor="start" letter-spacing="0.45" stroke="#000" stroke-width="0.32">24'2&quot;</text>
<rect x="492" y="303.3" width="163" height="0.9" fill="#444"/>
<polygon points="490.4,303.75 494.4,302.05 494.4,305.45" fill="#222"/>
<text x="524.6" y="300.9" font-family="Liberation Sans" font-size="10.8" font-weight="normal" font-style="normal" fill="#000" text-anchor="start"  stroke="#000" stroke-width="0.32">Grue LaSalle-Coke</text>
<text x="662.3" y="304.85" font-family="Liberation Sans" font-size="10.8" font-weight="normal" font-style="normal" fill="#000" text-anchor="start"  stroke="#000" stroke-width="0.32">4,54 m</text>
<text x="704.2" y="304.85" font-family="Liberation Sans" font-size="10.9" font-weight="normal" font-style="italic" fill="#000" text-anchor="start" letter-spacing="0.45" stroke="#000" stroke-width="0.32">14'9&quot;</text>
<rect x="492" y="329.05" width="163" height="0.9" fill="#444"/>
<polygon points="490.4,329.5 494.4,327.8 494.4,331.2" fill="#222"/>
<text x="524.6" y="326.65" font-family="Liberation Sans" font-size="10.8" font-weight="normal" font-style="normal" fill="#000" text-anchor="start"  stroke="#000" stroke-width="0.32">Monk</text>
<text x="662.3" y="330.6" font-family="Liberation Sans" font-size="10.8" font-weight="normal" font-style="normal" fill="#000" text-anchor="start"  stroke="#000" stroke-width="0.32">2,52 m</text>
<text x="704.2" y="330.6" font-family="Liberation Sans" font-size="10.9" font-weight="normal" font-style="italic" fill="#000" text-anchor="start" letter-spacing="0.45" stroke="#000" stroke-width="0.32">8'3&quot;</text>
<rect x="492" y="352.3" width="163" height="0.9" fill="#444"/>
<polygon points="490.4,352.75 494.4,351.05 494.4,354.45" fill="#222"/>
<text x="524.6" y="349.9" font-family="Liberation Sans" font-size="10.8" font-weight="normal" font-style="normal" fill="#000" text-anchor="start"  stroke="#000" stroke-width="0.32">Côte-Saint-Paul</text>
<text x="662.3" y="353.85" font-family="Liberation Sans" font-size="10.8" font-weight="normal" font-style="normal" fill="#000" text-anchor="start"  stroke="#000" stroke-width="0.32">2,44 m</text>
<text x="704.2" y="353.85" font-family="Liberation Sans" font-size="10.9" font-weight="normal" font-style="italic" fill="#000" text-anchor="start" letter-spacing="0.45" stroke="#000" stroke-width="0.32">8'0&quot;</text>
<rect x="492" y="366.05" width="163" height="0.9" fill="#444"/>
<polygon points="490.4,366.5 494.4,364.8 494.4,368.2" fill="#222"/>
<text x="524.6" y="363.65" font-family="Liberation Sans" font-size="10.8" font-weight="normal" font-style="normal" fill="#000" text-anchor="start"  stroke="#000" stroke-width="0.32">Échangeur Turcot</text>
<text x="662.3" y="367.6" font-family="Liberation Sans" font-size="10.8" font-weight="normal" font-style="normal" fill="#000" text-anchor="start"  stroke="#000" stroke-width="0.32">+7,5 m</text>
<text x="704.2" y="367.6" font-family="Liberation Sans" font-size="10.9" font-weight="normal" font-style="italic" fill="#000" text-anchor="start" letter-spacing="0.45" stroke="#000" stroke-width="0.32">+24'6&quot;</text>
<rect x="492" y="440.8" width="163" height="0.9" fill="#444"/>
<polygon points="490.4,441.25 494.4,439.55 494.4,442.95" fill="#222"/>
<text x="524.6" y="437.45" font-family="Liberation Sans" font-size="10.8" font-weight="normal" font-style="normal" fill="#000" text-anchor="start" textLength="130.3" lengthAdjust="spacingAndGlyphs"  stroke="#000" stroke-width="0.32">Sir-George-Étienne-Cartier</text>
<text x="662.3" y="440.25" font-family="Liberation Sans" font-size="10.8" font-weight="normal" font-style="normal" fill="#000" text-anchor="start"  stroke="#000" stroke-width="0.32">3,23 m</text>
<text x="704.2" y="440.25" font-family="Liberation Sans" font-size="10.9" font-weight="normal" font-style="italic" fill="#000" text-anchor="start" letter-spacing="0.45" stroke="#000" stroke-width="0.32">10'6&quot;</text>
<rect x="492" y="476.55" width="163" height="0.9" fill="#444"/>
<polygon points="490.4,477 494.4,475.3 494.4,478.7" fill="#222"/>
<text x="524.6" y="474.15" font-family="Liberation Sans" font-size="10.8" font-weight="normal" font-style="normal" fill="#000" text-anchor="start"  stroke="#000" stroke-width="0.32">CN-Saint-Henri</text>
<text x="662.3" y="477.7" font-family="Liberation Sans" font-size="10.8" font-weight="normal" font-style="normal" fill="#000" text-anchor="start"  stroke="#000" stroke-width="0.32">2,44 m</text>
<text x="704.2" y="477.7" font-family="Liberation Sans" font-size="10.9" font-weight="normal" font-style="italic" fill="#000" text-anchor="start" letter-spacing="0.45" stroke="#000" stroke-width="0.32">8'0&quot;</text>
<rect x="492" y="511.55" width="163" height="0.9" fill="#444"/>
<polygon points="490.4,512 494.4,510.3 494.4,513.7" fill="#222"/>
<text x="524.6" y="509.15" font-family="Liberation Sans" font-size="10.8" font-weight="normal" font-style="normal" fill="#000" text-anchor="start"  stroke="#000" stroke-width="0.32">Atwater</text>
<text x="662.3" y="513.0" font-family="Liberation Sans" font-size="10.8" font-weight="normal" font-style="normal" fill="#000" text-anchor="start"  stroke="#000" stroke-width="0.32">4,24 m</text>
<text x="704.2" y="513.0" font-family="Liberation Sans" font-size="10.9" font-weight="normal" font-style="italic" fill="#000" text-anchor="start" letter-spacing="0.45" stroke="#000" stroke-width="0.32">13'9&quot;</text>
<rect x="492" y="541.8" width="163" height="0.9" fill="#444"/>
<polygon points="490.4,542.25 494.4,540.55 494.4,543.95" fill="#222"/>
<text x="524.6" y="539.4" font-family="Liberation Sans" font-size="10.8" font-weight="normal" font-style="normal" fill="#000" text-anchor="start"  stroke="#000" stroke-width="0.32">Charlevoix</text>
<text x="662.3" y="542.55" font-family="Liberation Sans" font-size="10.8" font-weight="normal" font-style="normal" fill="#000" text-anchor="start"  stroke="#000" stroke-width="0.32">2,44 m</text>
<text x="704.2" y="542.55" font-family="Liberation Sans" font-size="10.9" font-weight="normal" font-style="italic" fill="#000" text-anchor="start" letter-spacing="0.45" stroke="#000" stroke-width="0.32">8'0&quot;</text>
<rect x="492" y="570.05" width="163" height="0.9" fill="#444"/>
<polygon points="490.4,570.5 494.4,568.8 494.4,572.2" fill="#222"/>
<text x="524.6" y="567.65" font-family="Liberation Sans" font-size="10.8" font-weight="normal" font-style="normal" fill="#000" text-anchor="start"  stroke="#000" stroke-width="0.32">Des Seigneurs</text>
<text x="662.3" y="570.5" font-family="Liberation Sans" font-size="10.8" font-weight="normal" font-style="normal" fill="#000" text-anchor="start"  stroke="#000" stroke-width="0.32">2,44 m</text>
<text x="704.2" y="570.5" font-family="Liberation Sans" font-size="10.9" font-weight="normal" font-style="italic" fill="#000" text-anchor="start" letter-spacing="0.45" stroke="#000" stroke-width="0.32">8'0&quot;</text>
<rect x="492" y="612.8" width="163" height="0.9" fill="#444"/>
<polygon points="490.4,613.25 494.4,611.55 494.4,614.95" fill="#222"/>
<text x="524.6" y="610.4" font-family="Liberation Sans" font-size="10.8" font-weight="normal" font-style="normal" fill="#000" text-anchor="start"  stroke="#000" stroke-width="0.32">Saint-Gabriel</text>
<text x="662.3" y="613.35" font-family="Liberation Sans" font-size="10.8" font-weight="normal" font-style="normal" fill="#000" text-anchor="start"  stroke="#000" stroke-width="0.32">3,29 m</text>
<text x="704.2" y="613.35" font-family="Liberation Sans" font-size="10.9" font-weight="normal" font-style="italic" fill="#000" text-anchor="start" letter-spacing="0.45" stroke="#000" stroke-width="0.32">10'8&quot;</text>
<rect x="492" y="662.8" width="163" height="0.9" fill="#444"/>
<polygon points="490.4,663.25 494.4,661.55 494.4,664.95" fill="#222"/>
<text x="524.6" y="659.15" font-family="Liberation Sans" font-size="10.8" font-weight="normal" font-style="normal" fill="#000" text-anchor="start"  stroke="#000" stroke-width="0.32">Wellington</text>
<text x="662.3" y="662.55" font-family="Liberation Sans" font-size="10.8" font-weight="normal" font-style="normal" fill="#000" text-anchor="start"  stroke="#000" stroke-width="0.32">3,25 m</text>
<text x="704.2" y="662.55" font-family="Liberation Sans" font-size="10.9" font-weight="normal" font-style="italic" fill="#000" text-anchor="start" letter-spacing="0.45" stroke="#000" stroke-width="0.32">10'7&quot;</text>
<rect x="492" y="676.3" width="163" height="0.9" fill="#444"/>
<polygon points="490.4,676.75 494.4,675.05 494.4,678.45" fill="#222"/>
<text x="524.6" y="673.9" font-family="Liberation Sans" font-size="10.8" font-weight="normal" font-style="normal" fill="#000" text-anchor="start"  stroke="#000" stroke-width="0.32">CN-Wellington</text>
<text x="662.3" y="677.25" font-family="Liberation Sans" font-size="10.8" font-weight="normal" font-style="normal" fill="#000" text-anchor="start"  stroke="#000" stroke-width="0.32">3,29 m</text>
<text x="704.2" y="677.25" font-family="Liberation Sans" font-size="10.9" font-weight="normal" font-style="italic" fill="#000" text-anchor="start" letter-spacing="0.45" stroke="#000" stroke-width="0.32">10'8&quot;</text>
<rect x="492" y="732.05" width="163" height="0.9" fill="#444"/>
<polygon points="490.4,732.5 494.4,730.8 494.4,734.2" fill="#222"/>
<text x="524.6" y="730.2" font-family="Liberation Sans" font-size="10.8" font-weight="normal" font-style="normal" fill="#000" text-anchor="start"  stroke="#000" stroke-width="0.32">Autoroute Bonaventure</text>
<text x="662.3" y="729.5" font-family="Liberation Sans" font-size="10.8" font-weight="normal" font-style="normal" fill="#000" text-anchor="start"  stroke="#000" stroke-width="0.32">6,91 m</text>
<text x="704.2" y="729.5" font-family="Liberation Sans" font-size="10.9" font-weight="normal" font-style="italic" fill="#000" text-anchor="start" letter-spacing="0.45" stroke="#000" stroke-width="0.32">22'7&quot;</text>
<rect x="492" y="751.8" width="163" height="0.9" fill="#444"/>
<polygon points="490.4,752.25 494.4,750.55 494.4,753.95" fill="#222"/>
<text x="524.6" y="750.15" font-family="Liberation Sans" font-size="10.8" font-weight="normal" font-style="normal" fill="#000" text-anchor="start"  stroke="#000" stroke-width="0.32">Mill</text>
<text x="662.3" y="753.55" font-family="Liberation Sans" font-size="10.8" font-weight="normal" font-style="normal" fill="#000" text-anchor="start"  stroke="#000" stroke-width="0.32">3,89 m</text>
<text x="704.2" y="753.55" font-family="Liberation Sans" font-size="10.9" font-weight="normal" font-style="italic" fill="#000" text-anchor="start" letter-spacing="0.45" stroke="#000" stroke-width="0.32">12'8&quot;</text>
<rect x="492" y="885.05" width="163" height="0.9" fill="#444"/>
<polygon points="490.4,885.5 494.4,883.8 494.4,887.2" fill="#222"/>
<text x="524.6" y="882.65" font-family="Liberation Sans" font-size="10.8" font-weight="normal" font-style="normal" fill="#000" text-anchor="start"  stroke="#000" stroke-width="0.32">CN-Bickerdike</text>
<text x="662.3" y="885.8" font-family="Liberation Sans" font-size="10.8" font-weight="normal" font-style="normal" fill="#000" text-anchor="start"  stroke="#000" stroke-width="0.32">4,33 m</text>
<text x="704.2" y="885.8" font-family="Liberation Sans" font-size="10.9" font-weight="normal" font-style="italic" fill="#000" text-anchor="start" letter-spacing="0.45" stroke="#000" stroke-width="0.32">14'2&quot;</text>
<text x="33.6" y="49.6" font-family="Liberation Sans" font-size="21.4" font-weight="bold" font-style="normal" fill="#000" text-anchor="start" textLength="161.5" lengthAdjust="spacingAndGlyphs" stroke="#000" stroke-width="0.75" stroke-linejoin="round">SCHÉMA POUR</text>
<text x="33.7" y="74" font-family="Liberation Sans" font-size="21.4" font-weight="bold" font-style="normal" fill="#000" text-anchor="start" textLength="163.2" lengthAdjust="spacingAndGlyphs" stroke="#000" stroke-width="0.75" stroke-linejoin="round">LA NAVIGATION</text>
<rect x="36" y="102" width="171" height="341.5" fill="#000" opacity="0.4" filter="url(#sh)"/>
<rect x="32.1" y="92.4" width="172" height="342.3" fill="#e2e3e4"/>
<rect x="34.8" y="99.3" width="166" height="328.5" fill="none" stroke="#6c6c6c" stroke-width="1.1"/>
<text x="44.5" y="126.9" font-family="Liberation Serif" font-size="14.7" font-weight="normal" font-style="normal" fill="#000" text-anchor="start" textLength="67.5" lengthAdjust="spacingAndGlyphs"  stroke="#000" stroke-width="0.5">LÉGENDE</text>
<polygon points="47.8,150.2 65,143.7 80.2,149.6 80.2,169.5 65,163.7 47.8,170.2" fill="#a3bdce"/>
<polyline points="47.3,150.2 65,143.7 81,149.6" fill="none" stroke="#e60d28" stroke-width="2.9"/>
<polyline points="47.3,170.2 65,163.7 81,169.5" fill="none" stroke="#e60d28" stroke-width="2.9"/>
<text x="0" y="0" transform="translate(64.5,155.60000000000002) scale(2.0915,0.89)" text-anchor="middle" font-family="Liberation Sans" font-weight="bold" font-size="13.8" fill="#fff" stroke="#dc4a64" stroke-width="0.45" paint-order="stroke" dominant-baseline="central">5</text>
<text x="103.7" y="160.8" font-family="Liberation Sans" font-size="9.85" font-weight="normal" font-style="normal" fill="#000" text-anchor="start"  stroke="#000" stroke-width="0.32">écluse</text>
<text x="103.7" y="189.8" font-family="Liberation Sans" font-size="9.85" font-weight="normal" font-style="normal" fill="#000" text-anchor="start"  stroke="#000" stroke-width="0.32">passerelle</text>
<text x="103.7" y="220.20000000000002" font-family="Liberation Sans" font-size="9.85" font-weight="normal" font-style="normal" fill="#000" text-anchor="start"  stroke="#000" stroke-width="0.32">pont ferroviaire</text>
<text x="103.7" y="250.20000000000002" font-family="Liberation Sans" font-size="9.85" font-weight="normal" font-style="normal" fill="#000" text-anchor="start"  stroke="#000" stroke-width="0.32">pont routier</text>
<text x="103.7" y="279.90000000000003" font-family="Liberation Sans" font-size="9.85" font-weight="normal" font-style="normal" fill="#000" text-anchor="start"  stroke="#000" stroke-width="0.32">quai public</text>
<text x="103.7" y="339.5" font-family="Liberation Sans" font-size="9.85" font-weight="normal" font-style="normal" fill="#000" text-anchor="start"  stroke="#000" stroke-width="0.32">passage à surveiller</text>
<text x="103.7" y="370.40000000000003" font-family="Liberation Sans" font-size="9.85" font-weight="normal" font-style="normal" fill="#000" text-anchor="start"  stroke="#000" stroke-width="0.32">feux de circulation</text>
<text x="103.7" y="395.1" font-family="Liberation Sans" font-size="9.85" font-weight="normal" font-style="normal" fill="#000" text-anchor="start"  stroke="#000" stroke-width="0.32">DANGER</text>
<text x="103.7" y="407.0" font-family="Liberation Sans" font-size="9.85" font-weight="normal" font-style="normal" fill="#000" text-anchor="start"  stroke="#000" stroke-width="0.32">courant fort</text>
<clipPath id="qr"><rect x="100" y="295" width="80" height="16.5"/></clipPath>
<g clip-path="url(#qr)">
<text x="103.7" y="309.8" font-family="Liberation Sans" font-size="9.85" font-weight="normal" font-style="normal" fill="#000" text-anchor="start"  stroke="#000" stroke-width="0.32">quai réservé</text>
</g>
<rect x="41.1" y="185.5" width="45.9" height="4.1" fill="#2aa233"/>
<rect x="41.1" y="185.5" width="45.9" height="0.7" fill="#1b6f25"/>
<rect x="41.1" y="189.0" width="45.9" height="0.6" fill="#3c6b47"/>
<rect x="41.1" y="216.2" width="45.4" height="2.8" fill="#000"/>
<rect x="43.75" y="211.35" width="1.9" height="12.5" fill="#000"/>
<rect x="49.28" y="211.35" width="1.9" height="12.5" fill="#000"/>
<rect x="54.81" y="211.35" width="1.9" height="12.5" fill="#000"/>
<rect x="60.34" y="211.35" width="1.9" height="12.5" fill="#000"/>
<rect x="65.87" y="211.35" width="1.9" height="12.5" fill="#000"/>
<rect x="71.40" y="211.35" width="1.9" height="12.5" fill="#000"/>
<rect x="76.93" y="211.35" width="1.9" height="12.5" fill="#000"/>
<rect x="82.46" y="211.35" width="1.9" height="12.5" fill="#000"/>
<rect x="41.1" y="244.9" width="45.4" height="6" fill="#fdf5aa"/>
<rect x="41.1" y="244.9" width="45.4" height="1.1" fill="#000"/>
<rect x="41.1" y="249.8" width="45.4" height="1.1" fill="#000"/>
<rect x="60.5" y="271.8" width="7.6" height="12.5" fill="#f7b350" stroke="#8f6a36" stroke-width="1"/>
<rect x="60.8" y="302.3" width="7.2" height="10.8" fill="#1e3379"/>
<path d="M64.5,346.8 L64.5,326.8 M60.1,333.2 L64.5,326.8 L68.9,333.2" fill="none" stroke="#111" stroke-width="1.15"/>
<rect x="49.4" y="358.2" width="7.6" height="18.2" fill="#000"/>
<circle cx="53.199999999999996" cy="363.11" r="3.05" fill="#e6061f"/>
<circle cx="53.199999999999996" cy="371.30" r="3.05" fill="#27a53a"/>
<rect x="61.3" y="361.9" width="7.5" height="10.8" fill="#000"/>
<circle cx="65.05" cy="367.29999999999995" r="3.0" fill="#e6061f"/>
<rect x="72.5" y="361.9" width="7.5" height="10.8" fill="#000"/>
<circle cx="76.25" cy="367.29999999999995" r="3.0" fill="#ffe414"/>
<rect x="44.1" y="384" width="41" height="26.8" fill="#a3bdce"/>
<path d="M49.5,395.6 C52.47,401.60 60.03,401.60 63.0,395.6" fill="none" stroke="#000" stroke-width="1.6" stroke-dasharray="2.1 1.25"/>
<path d="M67,389.8 C69.66,395.80 76.44,395.80 79.1,389.8" fill="none" stroke="#000" stroke-width="1.6" stroke-dasharray="2.1 1.25"/>
<path d="M64.5,400.8 C67.14,406.80 73.86,406.80 76.5,400.8" fill="none" stroke="#000" stroke-width="1.6" stroke-dasharray="2.1 1.25"/>
<rect x="37" y="477" width="171" height="436" fill="#000" opacity="0.4" filter="url(#sh)"/>
<rect x="33.2" y="467.5" width="171.7" height="436.6" fill="#e2e3e4"/>
<rect x="36.4" y="476.5" width="166.1" height="418.8" fill="none" stroke="#555" stroke-width="1"/>
<text x="44.3" y="495.7" font-family="Liberation Serif" font-size="14.3" font-weight="normal" font-style="normal" fill="#000" text-anchor="start" textLength="113.2" lengthAdjust="spacingAndGlyphs"  stroke="#000" stroke-width="0.22">RÈGLEMENTS ET</text>
<text x="44.3" y="511" font-family="Liberation Serif" font-size="14.3" font-weight="normal" font-style="normal" fill="#000" text-anchor="start" textLength="128.2" lengthAdjust="spacingAndGlyphs"  stroke="#000" stroke-width="0.22">RENSEIGNEMENTS</text>
<text x="44.3" y="541.25" textLength="82.5" lengthAdjust="spacingAndGlyphs" font-family="Liberation Sans" font-size="11" font-weight="normal" fill="#111" stroke="#111" stroke-width="0.7" stroke-linejoin="round">Vitesse maximum :</text>
<text x="44.3" y="554.25" textLength="107" lengthAdjust="spacingAndGlyphs" font-family="Liberation Sans" font-size="11" font-weight="bold" fill="#111" stroke="#111" stroke-width="0.5" stroke-linejoin="round">10 km / h, pas de sillage</text>
<text x="44.3" y="576.25" textLength="90" lengthAdjust="spacingAndGlyphs" font-family="Liberation Sans" font-size="11" font-weight="normal" fill="#111" stroke="#111" stroke-width="0.7" stroke-linejoin="round">Tirant d’eau garanti :</text>
<text x="44.3" y="589.25" textLength="110.75" lengthAdjust="spacingAndGlyphs" font-family="Liberation Sans" font-size="11" font-weight="bold" fill="#111" stroke="#111" stroke-width="0.5" stroke-linejoin="round">2 m <tspan font-weight="normal">ou</tspan> 6 pieds, 6 pouces</text>
<text x="44.3" y="611.25" textLength="100" lengthAdjust="spacingAndGlyphs" font-family="Liberation Sans" font-size="11" font-weight="normal" fill="#111" stroke="#111" stroke-width="0.7" stroke-linejoin="round">Hauteur libre garantie :</text>
<text x="44.3" y="623.75" textLength="73.25" lengthAdjust="spacingAndGlyphs" font-family="Liberation Sans" font-size="11" font-weight="bold" fill="#111" stroke="#111" stroke-width="0.5" stroke-linejoin="round">2,4 m <tspan font-weight="normal">ou</tspan> 8 pieds</text>
<text x="44.3" y="645.5" textLength="140.25" lengthAdjust="spacingAndGlyphs" font-family="Liberation Sans" font-size="11" font-weight="normal" fill="#111" stroke="#111" stroke-width="0.7" stroke-linejoin="round">Durée approximative de transit :</text>
<text x="44.3" y="658.25" textLength="68.25" lengthAdjust="spacingAndGlyphs" font-family="Liberation Sans" font-size="11" font-weight="bold" fill="#111" stroke="#111" stroke-width="0.5" stroke-linejoin="round">de 3 à 5 heures</text>
<text x="44.3" y="680" textLength="141.5" lengthAdjust="spacingAndGlyphs" font-family="Liberation Sans" font-size="11" font-weight="normal" fill="#111" stroke="#111" stroke-width="0.7" stroke-linejoin="round">Distance totale entre les écluses</text>
<text x="44.3" y="693.25" textLength="53.25" lengthAdjust="spacingAndGlyphs" font-family="Liberation Sans" font-size="11" font-weight="normal" fill="#111" stroke="#111" stroke-width="0.7" stroke-linejoin="round">nº 1 et nº 5 :</text>
<text x="44.3" y="706.25" textLength="35.25" lengthAdjust="spacingAndGlyphs" font-family="Liberation Sans" font-size="11" font-weight="bold" fill="#111" stroke="#111" stroke-width="0.5" stroke-linejoin="round">12,1 km</text>
<text x="44.3" y="728.25" textLength="88.75" lengthAdjust="spacingAndGlyphs" font-family="Liberation Sans" font-size="11" font-weight="normal" fill="#111" stroke="#111" stroke-width="0.7" stroke-linejoin="round">Dénivellation totale :</text>
<text x="44.3" y="741.25" textLength="22.75" lengthAdjust="spacingAndGlyphs" font-family="Liberation Sans" font-size="11" font-weight="bold" fill="#111" stroke="#111" stroke-width="0.5" stroke-linejoin="round">14 m</text>
<text x="44.3" y="763" textLength="25.75" lengthAdjust="spacingAndGlyphs" font-family="Liberation Sans" font-size="11" font-weight="normal" fill="#111" stroke="#111" stroke-width="0.7" stroke-linejoin="round">N. B. :</text>
<text x="44.3" y="776.25" textLength="121.5" lengthAdjust="spacingAndGlyphs" font-family="Liberation Sans" font-size="11" font-weight="normal" fill="#111" stroke="#111" stroke-width="0.7" stroke-linejoin="round">Ce plan n’est pas à l’échelle</text>
<text x="44.3" y="797.5" textLength="79" lengthAdjust="spacingAndGlyphs" font-family="Liberation Sans" font-size="11" font-weight="normal" fill="#111" stroke="#111" stroke-width="0.7" stroke-linejoin="round">Dernière révision :</text>
<text x="44.3" y="810" textLength="49.5" lengthAdjust="spacingAndGlyphs" font-family="Liberation Sans" font-size="11" font-weight="normal" fill="#111" stroke="#111" stroke-width="0.7" stroke-linejoin="round">MARS 2011</text>
<text x="44.3" y="832.5" textLength="77.75" lengthAdjust="spacingAndGlyphs" font-family="Liberation Sans" font-size="11" font-weight="normal" fill="#111" stroke="#111" stroke-width="0.7" stroke-linejoin="round">Renseignements :</text>
<text x="44.3" y="847.5" textLength="59.5" lengthAdjust="spacingAndGlyphs" font-family="Liberation Sans" font-size="11" font-weight="normal" fill="#111" stroke="#111" stroke-width="0.7" stroke-linejoin="round">VHF Canal 68</text>
<text x="44.3" y="860.5" textLength="62" lengthAdjust="spacingAndGlyphs" font-family="Liberation Sans" font-size="11" font-weight="bold" fill="#111" stroke="#111" stroke-width="0.5" stroke-linejoin="round">514-595-6594</text>
<text x="44.3" y="873.75" textLength="145" lengthAdjust="spacingAndGlyphs" font-family="Liberation Sans" font-size="11" font-weight="bold" fill="#111" stroke="#111" stroke-width="0.5" stroke-linejoin="round">parcscanada.gc.ca/canallachine</text>
</svg></body></html>
